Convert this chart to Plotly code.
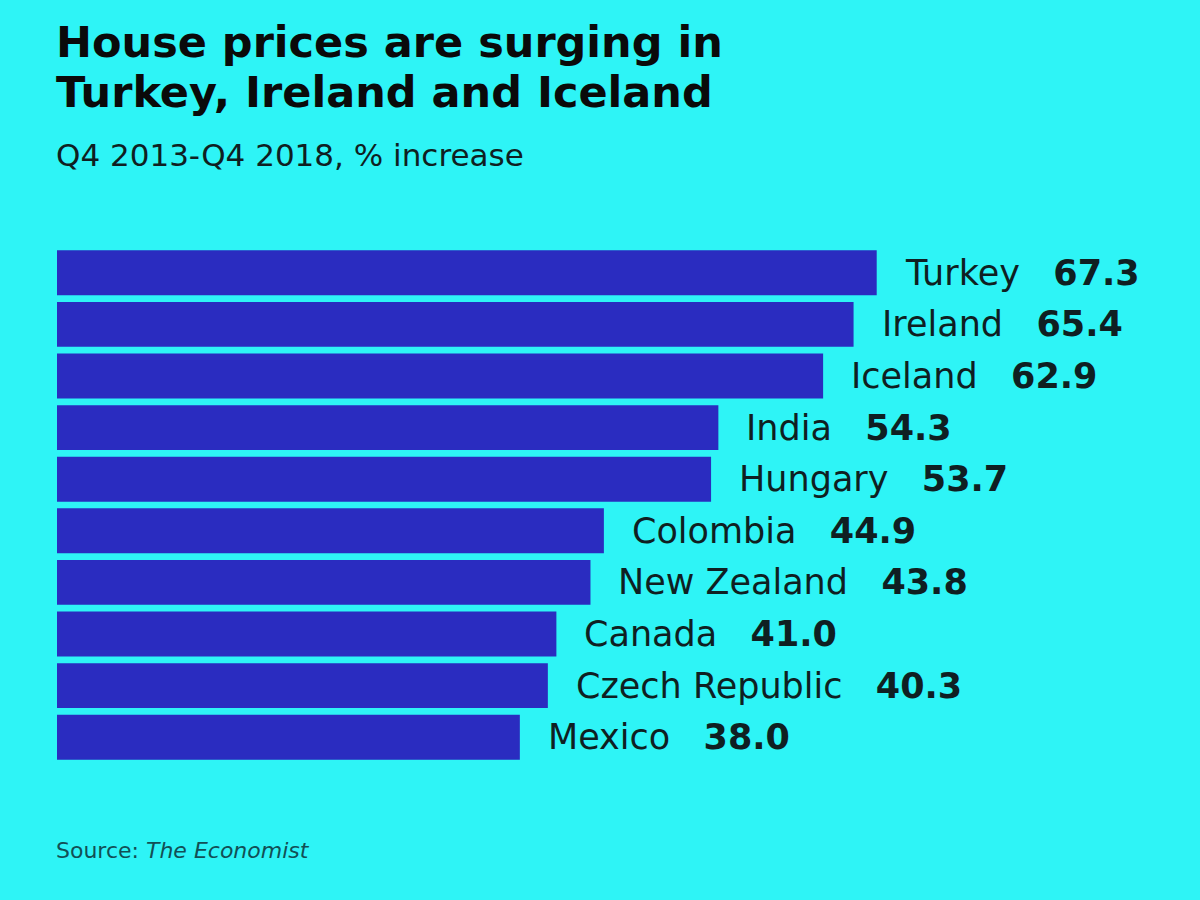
import plotly.graph_objects as go

countries = ["Turkey", "Ireland", "Iceland", "India", "Hungary", "Colombia",
             "New Zealand", "Canada", "Czech Republic", "Mexico"]
values = [67.3, 65.4, 62.9, 54.3, 53.7, 44.9, 43.8, 41.0, 40.3, 38.0]
title_lines = ["House prices are surging in", "Turkey, Ireland and Iceland"]

BG = "#2ef4f6"
BAR = "#2a2cc0"
TXT = "#0f1f22"
FONT = "DejaVu Sans"

W, H = 1200, 900
ML, MR, MT, MB = 57, 0, 247, 137
PW, PH = W - ML - MR, H - MT - MB

fig = go.Figure()
fig.add_trace(go.Bar(
    x=values, y=countries, orientation="h",
    marker=dict(color=BAR, line=dict(width=0)),
    hoverinfo="skip",
))

for c, v in zip(countries, values):
    fig.add_annotation(
        x=v, y=c, xref="x", yref="y",
        text=f"{c}&nbsp;&nbsp;&nbsp;<b>{v:.1f}</b>",
        showarrow=False, xanchor="left", yanchor="middle",
        xshift=26, font=dict(family=FONT, size=35, color=TXT),
    )


def paper_y(py):
    return (H - MB - py) / PH


def paper_x(px):
    return (px - ML) / PW


for i, line in enumerate(title_lines):
    fig.add_annotation(
        xref="paper", yref="paper", x=paper_x(54), y=paper_y(15 + 50 * i),
        xanchor="left", yanchor="top", align="left", showarrow=False,
        text=f"<b>{line}</b>",
        font=dict(family=FONT, size=43, color="#0a0a0a"),
    )
fig.add_annotation(
    xref="paper", yref="paper", x=paper_x(54), y=paper_y(135),
    xanchor="left", yanchor="top", align="left", showarrow=False,
    text="Q4 2013-Q4 2018, % increase",
    font=dict(family=FONT, size=31, color=TXT),
)
fig.add_annotation(
    xref="paper", yref="paper", x=paper_x(54), y=paper_y(836),
    xanchor="left", yanchor="top", align="left", showarrow=False,
    text="Source: <i>The Economist</i>",
    font=dict(family=FONT, size=22, color="#124f55"),
)

fig.update_layout(
    width=W, height=H,
    paper_bgcolor=BG, plot_bgcolor=BG,
    margin=dict(l=ML, r=MR, t=MT, b=MB),
    bargap=0.13,
    showlegend=False,
    xaxis=dict(range=[0, PW / 12.18], visible=False, fixedrange=True),
    yaxis=dict(autorange="reversed", visible=False, fixedrange=True),
    font=dict(family=FONT, color=TXT),
)

fig.write_html("out.html")
